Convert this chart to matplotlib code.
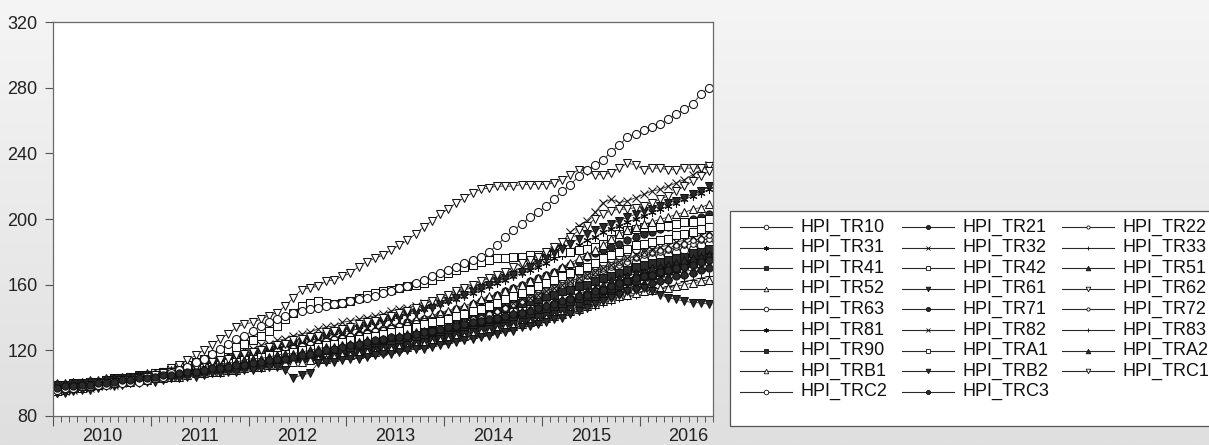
import numpy as np
import matplotlib
matplotlib.use("Agg")
import matplotlib.pyplot as plt
from matplotlib.lines import Line2D
from matplotlib.patches import Rectangle
import matplotlib.transforms as mtransforms

plt.rcParams["font.family"] = ["Liberation Sans", "DejaVu Sans"]

# monthly index, 2010M01 .. 2016M09
YEARS = [2010, 2011, 2012, 2013, 2014, 2015, 2016]
N_MONTHS = 81
Y_TICKS = [80, 120, 160, 200, 240, 280, 320]

TR10 = [96, 96, 97, 98, 98, 99, 100, 100, 101, 102, 102, 103,
        103, 104, 104, 105, 106, 106, 107, 107, 108, 108, 109, 110,
        110, 111, 112, 113, 113, 114, 115, 116, 116, 117, 117, 118,
        118, 118, 118, 119, 119, 120, 121, 122, 123, 124, 125, 127,
        128, 130, 132, 134, 136, 138, 140, 142, 144, 146, 148, 150,
        152, 154, 156, 158, 160, 162, 164, 166, 168, 170, 172, 174,
        175, 176, 177, 178, 180, 181, 182, 184, 185]
TR21 = [96, 96, 97, 98, 99, 99, 100, 101, 102, 102, 103, 104,
        105, 106, 107, 108, 109, 110, 111, 112, 113, 114, 115, 116,
        117, 118, 119, 120, 121, 122, 123, 124, 125, 126, 127, 128,
        129, 130, 131, 132, 133, 134, 135, 137, 138, 139, 140, 142,
        143, 145, 146, 148, 150, 152, 154, 156, 158, 160, 162, 164,
        166, 168, 170, 172, 174, 177, 179, 181, 183, 185, 187, 189,
        191, 192, 194, 195, 197, 198, 200, 201, 203]
TR22 = [97, 97, 98, 98, 99, 99, 100, 101, 101, 102, 102, 103,
        104, 104, 105, 105, 106, 107, 107, 108, 109, 110, 110, 111,
        112, 113, 114, 114, 115, 116, 117, 118, 118, 119, 120, 121,
        122, 123, 124, 125, 126, 127, 128, 129, 130, 131, 132, 133,
        135, 136, 138, 139, 141, 142, 144, 146, 148, 150, 151, 153,
        155, 157, 159, 161, 163, 165, 167, 169, 171, 172, 174, 176,
        178, 179, 180, 181, 183, 184, 185, 187, 188]
TR31 = [95, 96, 96, 97, 98, 99, 100, 100, 101, 102, 103, 104,
        105, 106, 107, 108, 109, 111, 112, 113, 114, 116, 117, 118,
        119, 120, 122, 123, 124, 125, 126, 128, 129, 130, 131, 132,
        134, 135, 136, 137, 139, 140, 141, 143, 144, 145, 147, 148,
        150, 151, 153, 155, 157, 159, 161, 163, 165, 167, 169, 171,
        173, 176, 178, 181, 184, 187, 189, 192, 194, 196, 198, 200,
        202, 204, 206, 208, 210, 212, 214, 216, 218]
TR32 = [95, 96, 97, 98, 99, 100, 101, 101, 102, 103, 104, 105,
        106, 107, 108, 109, 110, 112, 113, 114, 116, 117, 118, 120,
        121, 123, 124, 126, 127, 129, 130, 131, 133, 134, 135, 137,
        138, 139, 140, 141, 142, 144, 145, 146, 147, 149, 150, 151,
        153, 155, 157, 158, 160, 162, 164, 166, 168, 170, 172, 175,
        178, 181, 186, 192, 196, 199, 204, 210, 212, 210, 211, 213,
        215, 217, 218, 220, 222, 224, 227, 230, 233]
TR33 = [96, 96, 97, 97, 98, 99, 99, 100, 100, 101, 102, 102,
        103, 104, 104, 105, 106, 106, 107, 108, 109, 109, 110, 111,
        112, 113, 114, 115, 116, 117, 118, 119, 120, 121, 122, 123,
        124, 125, 126, 127, 128, 129, 130, 131, 132, 133, 134, 136,
        137, 138, 139, 140, 141, 143, 144, 145, 146, 147, 149, 150,
        151, 153, 154, 156, 157, 159, 160, 162, 163, 165, 166, 168,
        169, 170, 171, 171, 172, 173, 174, 174, 175]
TR41 = [98, 99, 99, 100, 101, 101, 102, 103, 103, 104, 105, 105,
        106, 107, 108, 108, 109, 110, 111, 112, 112, 113, 114, 115,
        116, 117, 118, 119, 120, 121, 122, 122, 123, 124, 125, 126,
        127, 128, 129, 130, 131, 132, 133, 134, 135, 136, 137, 138,
        139, 140, 141, 142, 143, 144, 145, 146, 148, 149, 150, 151,
        153, 154, 156, 157, 159, 160, 162, 164, 165, 167, 169, 171,
        172, 173, 174, 175, 176, 177, 179, 180, 182]
TR42 = [96, 97, 98, 98, 99, 100, 100, 101, 102, 103, 104, 105,
        106, 107, 108, 110, 111, 113, 115, 117, 119, 121, 122, 124,
        126, 129, 132, 135, 139, 143, 147, 149, 150, 149, 148, 149,
        150, 152, 154, 155, 156, 157, 158, 159, 160, 161, 163, 165,
        167, 169, 171, 172, 174, 175, 176, 176, 177, 177, 178, 178,
        178, 179, 180, 180, 181, 182, 183, 185, 188, 191, 193, 194,
        195, 195, 196, 196, 197, 198, 198, 199, 200]
TR51 = [99, 99, 100, 100, 101, 101, 102, 103, 103, 104, 104, 105,
        105, 106, 106, 107, 108, 108, 109, 109, 110, 111, 111, 112,
        112, 113, 114, 114, 115, 116, 116, 117, 118, 118, 119, 120,
        121, 121, 122, 123, 124, 124, 125, 126, 127, 128, 128, 129,
        130, 131, 132, 133, 134, 135, 136, 137, 138, 139, 140, 142,
        143, 144, 146, 147, 149, 150, 152, 154, 155, 157, 158, 160,
        161, 163, 164, 165, 167, 168, 169, 171, 172]
TR52 = [97, 97, 98, 99, 99, 100, 101, 101, 102, 103, 104, 104,
        105, 106, 107, 108, 109, 110, 111, 112, 113, 114, 115, 116,
        117, 118, 119, 120, 121, 122, 123, 124, 125, 126, 127, 128,
        129, 130, 131, 133, 134, 135, 136, 137, 139, 140, 141, 143,
        144, 146, 147, 149, 151, 153, 154, 156, 158, 160, 162, 164,
        166, 168, 171, 173, 176, 178, 181, 184, 188, 191, 193, 195,
        197, 198, 200, 201, 203, 204, 206, 207, 209]
TR61 = [94, 95, 96, 97, 98, 99, 100, 101, 102, 103, 103, 104,
        105, 106, 107, 108, 109, 110, 111, 113, 114, 115, 116, 117,
        118, 119, 120, 122, 123, 124, 125, 126, 127, 128, 130, 131,
        132, 133, 135, 136, 137, 139, 140, 142, 143, 145, 146, 148,
        150, 152, 154, 156, 158, 160, 162, 164, 166, 168, 171, 173,
        176, 179, 182, 185, 188, 191, 193, 195, 197, 199, 201, 203,
        205, 206, 208, 210, 211, 213, 215, 217, 220]
TR62 = [97, 98, 98, 99, 99, 100, 100, 101, 101, 102, 103, 104,
        105, 107, 109, 111, 114, 117, 120, 123, 127, 130, 134, 136,
        137, 139, 141, 143, 147, 152, 157, 158, 159, 162, 163, 165,
        167, 171, 174, 176, 178, 181, 184, 187, 191, 195, 199, 203,
        206, 210, 213, 216, 218, 219, 220, 220, 220, 221, 221, 221,
        221, 222, 224, 227, 230, 229, 227, 227, 228, 231, 234, 233,
        230, 231, 231, 230, 230, 231, 231, 231, 232]
TR63 = [97, 97, 98, 98, 99, 100, 100, 101, 102, 103, 103, 104,
        105, 106, 106, 107, 108, 109, 110, 111, 112, 113, 114, 115,
        116, 117, 118, 119, 120, 121, 122, 123, 124, 125, 126, 127,
        128, 129, 130, 131, 132, 133, 134, 135, 136, 137, 138, 139,
        140, 141, 143, 144, 146, 147, 149, 150, 152, 154, 156, 158,
        160, 162, 164, 166, 168, 170, 172, 174, 176, 178, 180, 182,
        184, 185, 187, 188, 190, 191, 192, 194, 195]
TR71 = [98, 98, 99, 99, 100, 100, 101, 101, 102, 102, 103, 103,
        104, 104, 105, 105, 106, 106, 107, 108, 108, 109, 109, 110,
        111, 111, 112, 113, 113, 114, 115, 115, 116, 117, 117, 118,
        119, 120, 120, 121, 122, 123, 123, 124, 125, 126, 127, 128,
        129, 130, 131, 132, 133, 134, 135, 136, 137, 138, 139, 141,
        142, 143, 145, 146, 148, 149, 151, 152, 154, 155, 157, 158,
        159, 161, 162, 163, 165, 166, 167, 169, 170]
TR72 = [98, 98, 99, 99, 100, 100, 101, 101, 102, 102, 103, 103,
        104, 104, 105, 106, 106, 107, 108, 108, 109, 110, 110, 111,
        112, 113, 113, 114, 115, 115, 116, 117, 118, 118, 119, 120,
        121, 122, 123, 124, 125, 126, 127, 128, 129, 130, 131, 133,
        134, 136, 137, 139, 140, 142, 144, 146, 148, 150, 152, 154,
        156, 158, 160, 162, 164, 166, 168, 170, 172, 174, 176, 177,
        179, 180, 181, 182, 184, 185, 187, 188, 190]
TR81 = [96, 97, 97, 98, 99, 99, 100, 101, 101, 102, 103, 103,
        104, 105, 105, 106, 107, 108, 108, 109, 110, 111, 111, 112,
        113, 114, 114, 115, 116, 117, 117, 118, 119, 120, 120, 121,
        122, 123, 123, 124, 125, 126, 127, 128, 128, 129, 130, 131,
        132, 133, 134, 135, 137, 138, 139, 140, 142, 143, 144, 146,
        147, 149, 150, 152, 153, 155, 157, 158, 160, 162, 163, 165,
        167, 168, 169, 171, 172, 174, 175, 177, 178]
TR82 = [95, 95, 96, 97, 97, 98, 99, 99, 100, 101, 102, 102,
        103, 104, 105, 106, 107, 108, 109, 110, 111, 112, 113, 114,
        115, 116, 117, 118, 119, 120, 121, 122, 123, 124, 125, 126,
        127, 128, 129, 130, 131, 132, 133, 134, 135, 136, 137, 138,
        139, 140, 141, 142, 144, 145, 146, 148, 149, 151, 152, 154,
        156, 158, 160, 162, 164, 166, 168, 170, 172, 174, 176, 178,
        180, 181, 183, 184, 186, 187, 189, 190, 192]
TR83 = [95, 96, 96, 97, 97, 98, 99, 99, 100, 100, 101, 102,
        102, 103, 103, 104, 105, 105, 106, 106, 107, 108, 108, 109,
        109, 110, 111, 111, 112, 113, 113, 114, 114, 115, 116, 116,
        117, 118, 118, 119, 120, 120, 121, 122, 122, 123, 124, 125,
        126, 127, 128, 129, 130, 131, 132, 133, 134, 135, 136, 138,
        139, 140, 142, 143, 144, 146, 147, 149, 150, 152, 153, 154,
        156, 157, 158, 159, 160, 162, 163, 164, 165]
TR90 = [99, 99, 100, 100, 101, 101, 102, 102, 103, 104, 104, 105,
        105, 106, 107, 107, 108, 109, 109, 110, 111, 111, 112, 113,
        113, 114, 115, 115, 116, 117, 118, 118, 119, 120, 121, 121,
        122, 123, 124, 125, 126, 126, 127, 128, 129, 130, 131, 132,
        133, 134, 135, 136, 137, 138, 139, 140, 141, 142, 143, 145,
        146, 147, 149, 150, 152, 153, 155, 157, 158, 160, 162, 163,
        165, 166, 168, 169, 170, 172, 173, 175, 176]
TRA1 = [95, 96, 97, 97, 98, 99, 100, 101, 101, 102, 103, 103,
        104, 105, 106, 107, 108, 108, 109, 110, 111, 112, 113, 114,
        115, 116, 117, 117, 118, 119, 120, 121, 122, 123, 124, 125,
        126, 127, 128, 129, 130, 131, 132, 133, 134, 136, 137, 138,
        139, 141, 142, 144, 145, 147, 149, 151, 153, 155, 157, 159,
        161, 163, 165, 167, 169, 171, 173, 176, 178, 180, 182, 184,
        185, 186, 187, 188, 190, 191, 192, 194, 195]
TRA2 = [100, 100, 101, 101, 102, 102, 103, 103, 104, 104, 105, 106,
        106, 107, 108, 108, 109, 110, 110, 111, 112, 112, 113, 114,
        115, 115, 116, 117, 118, 118, 119, 120, 121, 122, 122, 123,
        124, 125, 126, 126, 127, 128, 129, 130, 131, 132, 132, 133,
        134, 135, 136, 137, 138, 139, 140, 141, 143, 144, 145, 147,
        148, 150, 151, 153, 155, 156, 158, 160, 162, 164, 165, 167,
        168, 170, 171, 172, 173, 175, 176, 177, 178]
TRB1 = [97, 97, 98, 98, 99, 99, 100, 100, 101, 101, 102, 102,
        103, 103, 104, 104, 105, 106, 106, 107, 107, 108, 108, 109,
        110, 110, 111, 111, 112, 113, 113, 114, 115, 115, 116, 117,
        117, 118, 119, 119, 120, 121, 122, 122, 123, 124, 125, 126,
        127, 128, 129, 130, 131, 132, 133, 134, 135, 136, 137, 138,
        140, 141, 142, 144, 145, 147, 148, 150, 151, 153, 154, 155,
        156, 157, 158, 158, 159, 160, 161, 162, 163]
TRB2 = [94, 94, 95, 96, 96, 97, 98, 98, 99, 100, 100, 101,
        101, 102, 103, 103, 104, 104, 105, 106, 106, 107, 107, 108,
        108, 109, 110, 110, 108, 103, 105, 106, 112, 113, 113, 114,
        115, 115, 116, 117, 118, 118, 119, 120, 121, 121, 122, 123,
        124, 125, 126, 127, 128, 129, 130, 131, 132, 134, 135, 136,
        137, 139, 140, 142, 144, 146, 148, 150, 152, 154, 156, 157,
        158, 156, 154, 152, 151, 150, 149, 149, 148]
TRC1 = [96, 97, 97, 98, 99, 100, 100, 101, 102, 102, 103, 104,
        105, 106, 107, 108, 109, 110, 112, 113, 114, 115, 117, 118,
        119, 120, 122, 123, 124, 126, 127, 128, 129, 131, 132, 133,
        134, 136, 137, 138, 140, 141, 143, 144, 146, 148, 150, 152,
        154, 156, 158, 160, 162, 164, 166, 168, 171, 173, 175, 177,
        180, 183, 186, 189, 193, 196, 200, 203, 205, 206, 206, 207,
        208, 210, 212, 214, 217, 220, 223, 226, 229]
TRC2 = [96, 97, 97, 98, 98, 99, 99, 100, 100, 101, 101, 102,
        103, 104, 106, 108, 110, 113, 115, 118, 121, 124, 127, 129,
        132, 135, 137, 139, 141, 143, 144, 145, 146, 147, 148, 149,
        150, 151, 152, 153, 155, 156, 158, 159, 161, 163, 165, 167,
        169, 171, 173, 175, 177, 180, 184, 189, 193, 197, 201, 204,
        208, 212, 217, 221, 226, 230, 233, 236, 241, 245, 250, 252,
        254, 256, 258, 261, 264, 267, 270, 276, 280]
TRC3 = [97, 98, 98, 99, 99, 100, 100, 101, 102, 102, 103, 103,
        104, 105, 105, 106, 107, 107, 108, 109, 109, 110, 111, 111,
        112, 113, 114, 115, 115, 116, 117, 118, 119, 120, 121, 122,
        123, 124, 125, 126, 127, 128, 128, 129, 130, 131, 132, 133,
        134, 135, 136, 137, 138, 139, 140, 141, 142, 143, 144, 146,
        147, 148, 150, 151, 153, 154, 156, 157, 159, 161, 162, 164,
        165, 166, 168, 169, 170, 171, 172, 174, 175]

SERIES = [("HPI_TR10", TR10), ("HPI_TR21", TR21), ("HPI_TR22", TR22),
          ("HPI_TR31", TR31), ("HPI_TR32", TR32), ("HPI_TR33", TR33),
          ("HPI_TR41", TR41), ("HPI_TR42", TR42), ("HPI_TR51", TR51),
          ("HPI_TR52", TR52), ("HPI_TR61", TR61), ("HPI_TR62", TR62),
          ("HPI_TR63", TR63), ("HPI_TR71", TR71), ("HPI_TR72", TR72),
          ("HPI_TR81", TR81), ("HPI_TR82", TR82), ("HPI_TR83", TR83),
          ("HPI_TR90", TR90), ("HPI_TRA1", TRA1), ("HPI_TRA2", TRA2),
          ("HPI_TRB1", TRB1), ("HPI_TRB2", TRB2), ("HPI_TRC1", TRC1),
          ("HPI_TRC2", TRC2), ("HPI_TRC3", TRC3)]

# marker cycle as EViews draws it: (marker, filled, size scale)
ASTER = (6, 2, 0)
STYLES = [("o", False, 1.0), ("o", True, 0.9), ("o", False, 0.7),
          (ASTER, True, 1.0), ("x", True, 0.9), ("+", True, 1.0),
          ("s", True, 0.9), ("s", False, 0.95), ("^", True, 1.0),
          ("^", False, 1.0), ("v", True, 1.0), ("v", False, 1.0)]

LINE = "#2a2a2a"
FS = 13

fig = plt.figure(figsize=(12.09, 4.45), dpi=100)

# grey gradient background
bg = fig.add_axes([0, 0, 1, 1], zorder=-10)
grad = np.linspace(0, 1, 256).reshape(-1, 1)
bg.imshow(grad, aspect="auto", cmap=matplotlib.colors.LinearSegmentedColormap.from_list(
    "g", ["#f5f5f5", "#dfdfdf"]), extent=[0, 1, 0, 1], origin="upper")
bg.set_axis_off()

ax = fig.add_axes([53 / 1209, 29 / 445, 660 / 1209, 394 / 445])
ax.set_facecolor("white")

x = np.array([YEARS[0] + (i + 0.5) / 12 for i in range(N_MONTHS)])
for i, (name, vals) in enumerate(SERIES):
    mk, filled, sc = STYLES[i % len(STYLES)]
    ax.plot(x, vals, color=LINE, lw=0.6, marker=mk, ms=5.8 * sc,
            mfc=LINE if filled else "white", mec="#111111", mew=0.75,
            zorder=2 + i * 0.01)

ax.set_xlim(YEARS[0], YEARS[0] + N_MONTHS / 12)
ax.set_ylim(80, 320)
ax.set_yticks(Y_TICKS)
ax.tick_params(axis="y", length=6, width=0.8, color="#555555", labelsize=FS,
               pad=5, labelcolor="#222222")
ax.set_xticks(YEARS)
ax.set_xticklabels([])
ax.set_xticks([YEARS[0] + k / 12 for k in range(N_MONTHS + 1)], minor=True)
ax.tick_params(axis="x", which="major", length=7, width=0.8, color="#555555")
ax.tick_params(axis="x", which="minor", length=4, width=0.7, color="#555555")
trans = mtransforms.blended_transform_factory(ax.transData, ax.transAxes)
for yr in YEARS:
    ax.text(yr + 0.5, -12 / 394, str(yr), transform=trans, ha="center", va="top",
            fontsize=FS, color="#222222", clip_on=False)
for s in ax.spines.values():
    s.set_color("#6a6a6a")
    s.set_linewidth(0.9)

# legend drawn in pixel space, filled row by row like EViews
lg = fig.add_axes([0, 0, 1, 1], zorder=5)
lg.set_xlim(0, 1209)
lg.set_ylim(445, 0)
lg.set_axis_off()
lg.add_patch(Rectangle((730, 211), 520, 215, facecolor="white", edgecolor="#555555",
                       lw=0.9, clip_on=False))
col_x = [740, 902, 1062]
for i, (name, vals) in enumerate(SERIES):
    mk, filled, sc = STYLES[i % len(STYLES)]
    r, c = divmod(i, 3)
    yy = 227 + r * 20.6
    x0 = col_x[c]
    lg.add_line(Line2D([x0, x0 + 52], [yy, yy], color=LINE, lw=0.8))
    lg.add_line(Line2D([x0 + 26], [yy], marker=mk, ms=3.3 * sc, color=LINE,
                       mfc=LINE if filled else "white", mec="#111111", mew=0.6))
    lg.text(x0 + 60, yy, name, fontsize=FS, va="center", ha="left", color="#111111")

fig.savefig("out.png", dpi=100)
